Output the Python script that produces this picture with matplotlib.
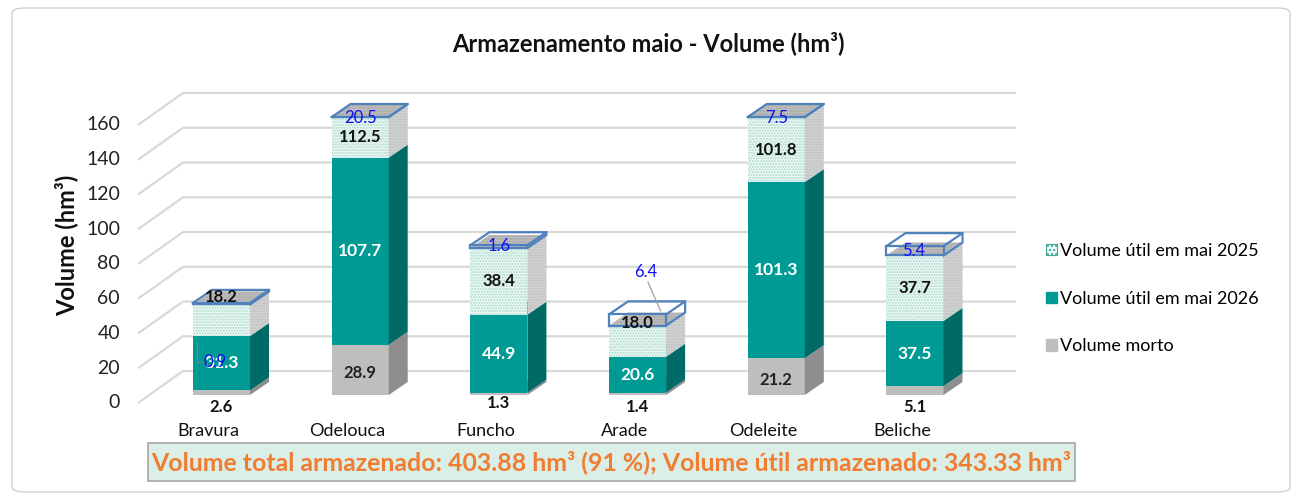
import matplotlib
matplotlib.use("Agg")
import matplotlib.pyplot as plt
from matplotlib.patches import Polygon, Patch, FancyBboxPatch

plt.rcParams['font.family'] = ['Lato', 'DejaVu Sans']

# ---- data -------------------------------------------------------------
reservoirs = ["Bravura", "Odelouca", "Funcho", "Arade", "Odeleite", "Beliche"]
vol_morto = [2.6, 28.9, 1.3, 1.4, 21.2, 5.1]
vol_util_2026 = [31.3, 107.7, 44.9, 20.6, 101.3, 37.5]
vol_util_2025 = [18.2, 112.5, 38.4, 18.0, 101.8, 37.7]
vol_extra = [0.9, 20.5, 1.6, 6.4, 7.5, 5.4]
y_ticks = [0, 20, 40, 60, 80, 100, 120, 140, 160]
y_max = 160

legend_labels = ["Volume útil em mai 2025", "Volume útil em mai 2026", "Volume morto"]
title = "Armazenamento maio - Volume (hm³)"
y_label = "Volume (hm³)"
summary = "Volume total armazenado: 403.88 hm³ (91 %); Volume útil armazenado: 343.33 hm³"

# ---- colours ------------------------------------------------------------
GRAY_F, GRAY_S = "#BEBEBE", "#8E8E8E"
TEAL_F, TEAL_S = "#009A95", "#006A66"
DOT_F, DOT_S, DOT_T = "#EEF8F4", "#D2D4D3", "#BDBFBE"
DOT_H = "#A9D9CF"
BOX_E = "#4F81BD"
GRID = "#D9D9D9"

# ---- figure / axes geometry -------------------------------------------
W, H = 1299, 497
fig = plt.figure(figsize=(W / 100, H / 100), dpi=100)

X0_PX, DX_PX = 221.5, 138.7        # first bar centre, spacing (px)
Y0_PX, PPU = 395.0, 1.7375         # baseline pixel, pixels per unit
xlim = (-0.8, 5.9)
ylim = (-30, 180)
left = X0_PX + xlim[0] * DX_PX
right = X0_PX + xlim[1] * DX_PX
bottom = Y0_PX - ylim[0] * PPU
top = Y0_PX - ylim[1] * PPU
ax = fig.add_axes([left / W, 1 - bottom / H, (right - left) / W, (bottom - top) / H])
ax.set_xlim(*xlim)
ax.set_ylim(*ylim)
ax.axis("off")

hw = 28.5 / DX_PX                  # half bar width
ddx, ddy = 19 / DX_PX, 13 / PPU    # depth offset of the bars

# back wall gridlines
wall_x0 = (138 - X0_PX) / DX_PX
wall_x1 = (183 - X0_PX) / DX_PX
wall_x2 = (1016 - X0_PX) / DX_PX
front_dy, back_dy = -4.6, 13.8
for v in y_ticks:
    ax.plot([wall_x0, wall_x1, wall_x2], [v + front_dy, v + back_dy, v + back_dy],
            color=GRID, lw=1.6, zorder=1, solid_capstyle="butt")
    ax.text(wall_x0 - 0.13, v + front_dy, str(v), ha="right", va="center",
            fontsize=14, color="#222222")


def face(pts, fc, hatch=None, hc=None, z=3):
    ax.add_patch(Polygon(pts, closed=True, facecolor=fc, edgecolor="none", lw=0, zorder=z))
    if hatch:
        ax.add_patch(Polygon(pts, closed=True, facecolor="none", edgecolor=hc, lw=0,
                             hatch=hatch, zorder=z))


def block(x, y0, y1, front, side, topc, hatch=None, hc=None, z=3):
    if y1 <= y0:
        return
    face([(x - hw, y0), (x + hw, y0), (x + hw, y1), (x - hw, y1)], front, hatch, hc, z)
    face([(x + hw, y0), (x + hw + ddx, y0 + ddy), (x + hw + ddx, y1 + ddy), (x + hw, y1)],
         side, hatch, "#BDBDBD" if hatch else None, z)
    face([(x - hw, y1), (x + hw, y1), (x + hw + ddx, y1 + ddy), (x - hw + ddx, y1 + ddy)],
         topc, hatch, "#A5A5A5" if hatch else None, z)


def wire(x, y0, y1, z=6):
    kw = dict(color=BOX_E, lw=1.6, zorder=z, solid_joinstyle="miter")
    ax.plot([x - hw, x + hw, x + hw, x - hw, x - hw], [y0, y0, y1, y1, y0], **kw)
    ax.plot([x - hw, x - hw + ddx, x + hw + ddx, x + hw], [y1, y1 + ddy, y1 + ddy, y1], **kw)
    ax.plot([x + hw, x + hw + ddx, x + hw + ddx], [y0, y0 + ddy, y1 + ddy], **kw)


lab_bold = dict(fontsize=12, fontweight="bold", ha="center", va="center", zorder=10)
dot_label_y = {0: 56.4, 3: 41.4}          # labels moved up on short segments
blue_label_pos = {0: (-0.05, 19.0), 1: (0, 159.4), 2: (0, 85.8), 3: (0.06, 70.8),
                  4: (0, 159.4), 5: (-0.01, 82.9)}

for i, name in enumerate(reservoirs):
    x = i
    c0 = 0.0
    c1 = c0 + vol_morto[i]
    c2 = c1 + vol_util_2026[i]
    c3 = c2 + vol_util_2025[i]
    c4 = c3 + vol_extra[i]
    cl = [min(c, y_max) for c in (c0, c1, c2, c3, c4)]

    block(x, cl[0], cl[1], GRAY_F, GRAY_S, GRAY_F)
    block(x, cl[1], cl[2], TEAL_F, TEAL_S, TEAL_F)
    block(x, cl[2], cl[3], DOT_F, DOT_S, DOT_T, hatch="......", hc=DOT_H)
    wire(x, cl[3], cl[4])

    # value labels
    if vol_morto[i] > 10:
        ax.text(x, (cl[0] + cl[1]) / 2 - 2, f"{vol_morto[i]:.1f}", color="#222222", **lab_bold)
    else:
        ax.text(x, -7 if i != 2 else -4.5, f"{vol_morto[i]:.1f}", color="#111111", **lab_bold)
    ax.text(x, (cl[1] + cl[2]) / 2, f"{vol_util_2026[i]:.1f}", color="white",
            **{**lab_bold, "fontsize": 12.5})
    ax.text(x, dot_label_y.get(i, (cl[2] + cl[3]) / 2), f"{vol_util_2025[i]:.1f}",
            color="#111111", **lab_bold)
    bx, by = blue_label_pos[i]
    ax.text(x + bx, by, f"{vol_extra[i]:.1f}", color="#1010F0", fontsize=12,
            ha="center", va="center", zorder=11)

    # category label
    ax.text(x - 13 / DX_PX, -20.5, name, ha="center", va="center", fontsize=13,
            color="#111111", clip_on=False)

# leader lines for labels placed away from their segment
ax.plot([-0.18, -0.18, -0.12], [30.0, 19.0, 19.0], color="#7F7F7F", lw=0.9, zorder=9)
ax.plot([3 + 0.075, 3 + 0.165], [65.0, 48.5], color="#A0A0A0", lw=0.9, zorder=9)

# ---- titles -------------------------------------------------------------
fig.text(648 / W, 1 - 43 / H, title, ha="center", va="center", fontsize=17,
         fontweight="bold", color="#111111")
fig.text(66 / W, 1 - 245 / H, y_label, ha="center", va="center", rotation=90,
         fontsize=17, fontweight="bold", color="#111111")

# ---- legend -------------------------------------------------------------
handles = [
    Patch(facecolor=DOT_F, edgecolor="#3FA89A", hatch="....", lw=0.8),
    Patch(facecolor=TEAL_F, edgecolor=TEAL_F),
    Patch(facecolor=GRAY_F, edgecolor=GRAY_F),
]
fig.legend(handles, legend_labels, loc="upper left",
           bbox_to_anchor=(1046 / W, 1 - 243 / H), frameon=False, fontsize=13,
           handlelength=0.6, handleheight=0.6, handletextpad=0.2, labelspacing=1.75,
           borderaxespad=0, borderpad=0)

# ---- summary box -------------------------------------------------------
fig.patches.append(FancyBboxPatch((148 / W, 1 - 481 / H), (1075 - 148) / W, 38 / H,
                                  boxstyle="square,pad=0", transform=fig.transFigure,
                                  facecolor="#DCEFE7", edgecolor="#A6A6A6", lw=1.2))
fig.text(611 / W, 1 - 462 / H, summary, ha="center", va="center", fontsize=17.9,
         fontweight="bold", color="#F07D32")

# outer frame
fig.patches.append(FancyBboxPatch((12 / W, 1 - 492 / H), 1278 / W, 484 / H,
                                  boxstyle="round,pad=0,rounding_size=0.01",
                                  transform=fig.transFigure, facecolor="none",
                                  edgecolor="#D0D0D0", lw=1.0))

fig.savefig("out.png", dpi=100)
